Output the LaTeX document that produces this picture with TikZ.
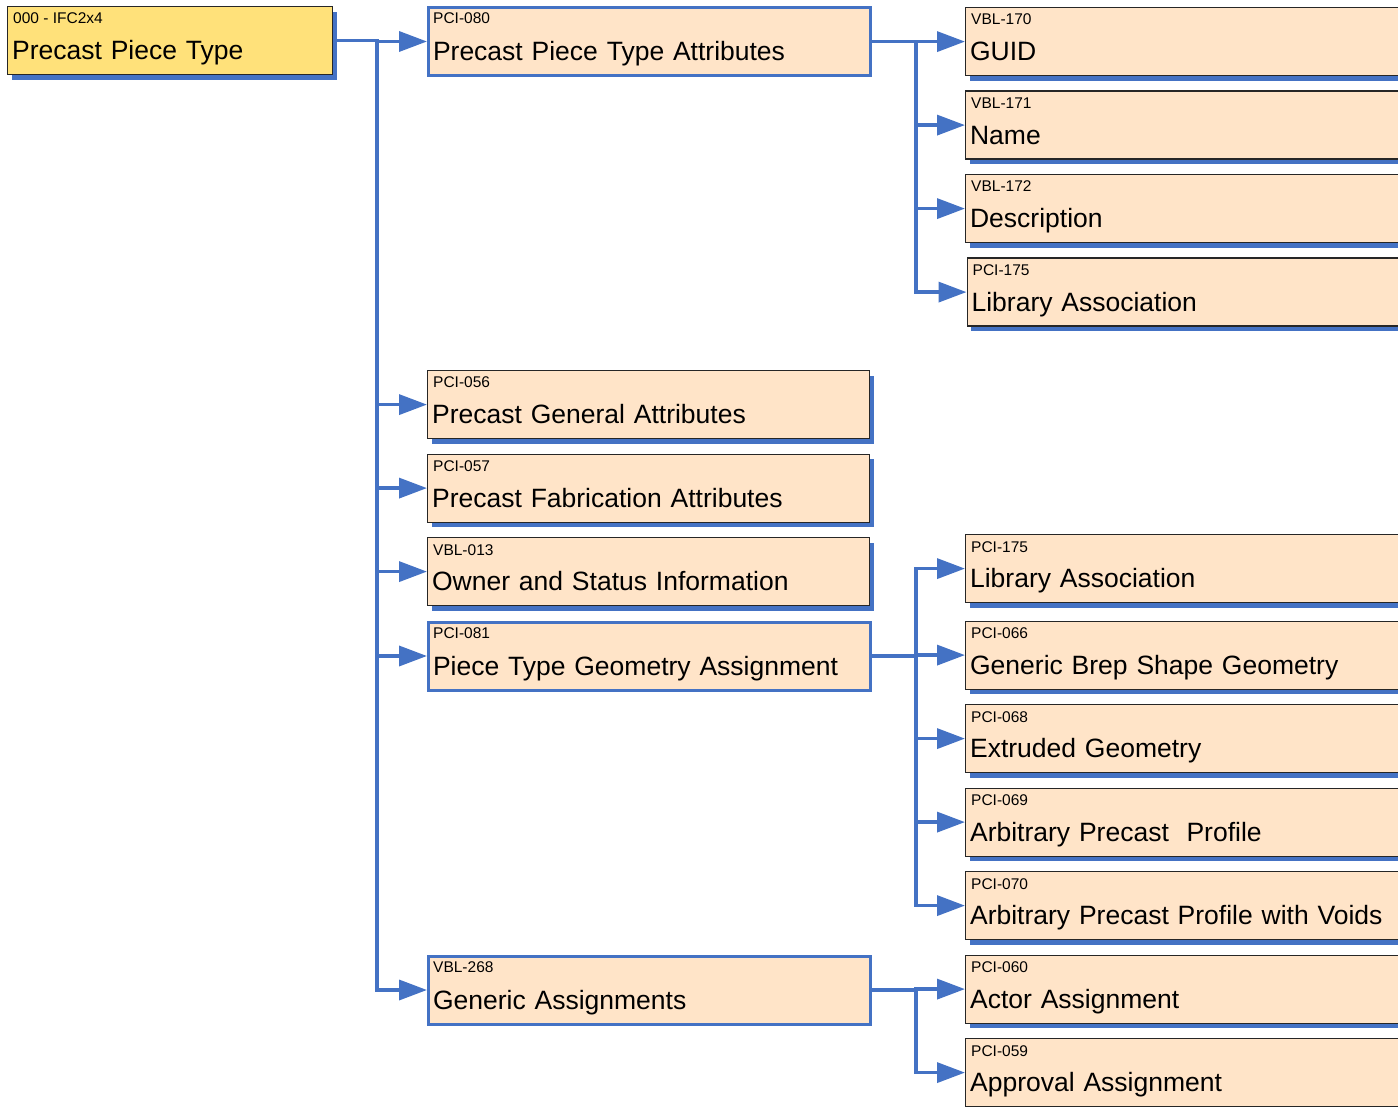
\documentclass[tikz,border=0pt]{standalone}
\usepackage{fontspec}
\setmainfont{Liberation Sans}
\usetikzlibrary{arrows.meta,shadows}
\definecolor{linkblue}{RGB}{68,114,196}
\definecolor{peach}{RGB}{255,228,200}
\definecolor{gold}{RGB}{255,225,122}
\tikzset{
	piece/.style={
		% Box shape and text
		rectangle, anchor=north west, fill=peach,
		inner xsep=4.5pt, inner ysep=0pt,
		text height=53pt, text depth=15pt, align=left,
		font=\fontsize{26.5}{30}\selectfont
		},
	% Boxes without children, and boxes with children
	leaf/.style={piece, draw=black!85, line width=1.2pt,
		drop shadow={shadow xshift=4pt, shadow yshift=-5pt, fill=linkblue, opacity=1}},
	parent/.style={piece, draw=linkblue, line width=3pt},
	topbox/.style={leaf, fill=gold, text width=316pt},
	midbox/.style={text width=433pt},
	sidebox/.style={text width=448pt},
	% Small code above the name
	tag/.style={anchor=base west, inner sep=0pt, xshift=6pt, yshift=-18pt,
		font=\fontsize{15.5}{18}\selectfont},
	link/.style={linkblue, line width=3.5pt, -{Triangle[length=28pt,width=20pt]}}
}
\begin{document}
\begin{tikzpicture}[x=1pt,y=-1pt]
	\useasboundingbox (0,0) rectangle (1398,1107);
	\node [topbox, label={[tag]north west:000 - IFC2x4}] (root) at (7,6) {Precast Piece Type};

	\node [parent, midbox, label={[tag]north west:PCI-080}] (p080) at (427,6) {Precast Piece Type Attributes};
	\node [leaf, midbox, label={[tag]north west:PCI-056}] (p056) at (427,370) {Precast General Attributes};
	\node [leaf, midbox, label={[tag]north west:PCI-057}] (p057) at (427,453.5) {Precast Fabrication Attributes};
	\node [leaf, midbox, label={[tag]north west:VBL-013}] (v013) at (427,537) {Owner and Status Information};
	\node [parent, midbox, label={[tag]north west:PCI-081}] (p081) at (427,620.5) {Piece Type Geometry Assignment};
	\node [parent, midbox, label={[tag]north west:VBL-268}] (v268) at (427,954.5) {Generic Assignments};

	\node [leaf, sidebox, label={[tag]north west:VBL-170}] (v170) at (965,7) {GUID};
	\node [leaf, sidebox, label={[tag]north west:VBL-171}] (v171) at (965,90.5) {Name};
	\node [leaf, sidebox, label={[tag]north west:VBL-172}] (v172) at (965,174) {Description};
	\node [leaf, sidebox, label={[tag]north west:PCI-175}] (p175a) at (966.5,257.5) {Library Association};
	\node [leaf, sidebox, label={[tag]north west:PCI-175}] (p175b) at (965,534) {Library Association};
	\node [leaf, sidebox, label={[tag]north west:PCI-066}] (p066) at (965,620.5) {Generic Brep Shape Geometry};
	\node [leaf, sidebox, label={[tag]north west:PCI-068}] (p068) at (965,704) {Extruded Geometry};
	\node [leaf, sidebox, label={[tag]north west:PCI-069}] (p069) at (965,787.5) {Arbitrary Precast\ \ Profile};
	\node [leaf, sidebox, label={[tag]north west:PCI-070}] (p070) at (965,871) {Arbitrary Precast Profile with Voids};
	\node [leaf, sidebox, label={[tag]north west:PCI-060}] (p060) at (965,954.5) {Actor Assignment};
	\node [leaf, sidebox, label={[tag]north west:PCI-059}] (p059) at (965,1038) {Approval Assignment};

	\draw [link] (root.east) -- ++(44,0) |- (p080.west);
	\draw [link] (root.east) -- ++(44,0) |- (p056.west);
	\draw [link] (root.east) -- ++(44,0) |- (p057.west);
	\draw [link] (root.east) -- ++(44,0) |- (v013.west);
	\draw [link] (root.east) -- ++(44,0) |- (p081.west);
	\draw [link] (root.east) -- ++(44,0) |- (v268.west);

	\draw [link] (p080.east) -- ++(44,0) |- (v170.west);
	\draw [link] (p080.east) -- ++(44,0) |- (v171.west);
	\draw [link] (p080.east) -- ++(44,0) |- (v172.west);
	\draw [link] (p080.east) -- ++(44,0) |- (p175a.west);

	\draw [link] (p081.east) -- ++(44,0) |- (p175b.west);
	\draw [link] (p081.east) -- ++(44,0) |- (p066.west);
	\draw [link] (p081.east) -- ++(44,0) |- (p068.west);
	\draw [link] (p081.east) -- ++(44,0) |- (p069.west);
	\draw [link] (p081.east) -- ++(44,0) |- (p070.west);

	\draw [link] (v268.east) -- ++(44,0) |- (p060.west);
	\draw [link] (v268.east) -- ++(44,0) |- (p059.west);
\end{tikzpicture}
\end{document}
